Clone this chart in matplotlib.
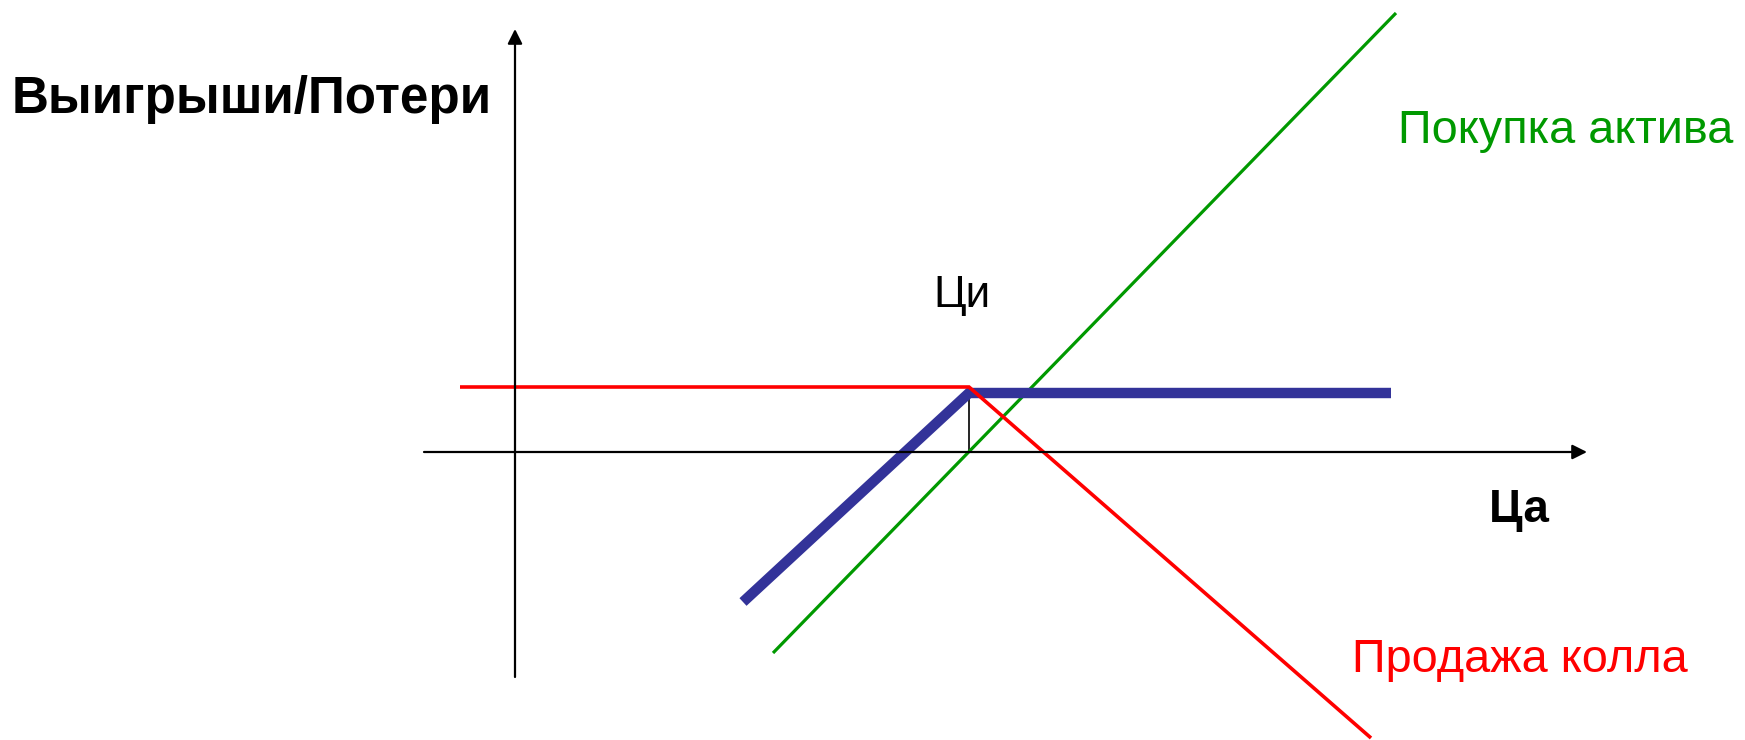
import matplotlib
matplotlib.use("Agg")
import matplotlib.pyplot as plt

# Chart coordinates: origin at the axes crossing, 1 unit ~ 1 px
red_x = [-55, 454, 856]
red_y = [65, 65, -286]
blue_x = [228, 454, 876]
blue_y = [-150, 59, 59]
green_x = [258, 881]
green_y = [-201, 439]
strike_x = 454
premium_y = 65

x_axis = [-91, 1072]
y_axis = [-225, 423]

title_y = "Выигрыши/Потери"
label_x = "Ца"
label_strike = "Ци"
label_green = "Покупка актива"
label_red = "Продажа колла"

fig = plt.figure(figsize=(17.45, 7.40), dpi=100)
ax = fig.add_axes([0, 0, 1, 1])
ax.set_xlim(-515, 1230)
ax.set_ylim(-288, 452)
ax.axis("off")

# axes with arrows
ax.annotate("", xy=(x_axis[1], 0), xytext=(x_axis[0], 0),
            arrowprops=dict(arrowstyle="-|>", color="black", lw=1.6,
                            mutation_scale=22, shrinkA=0, shrinkB=0))
ax.annotate("", xy=(0, y_axis[1]), xytext=(0, y_axis[0]),
            arrowprops=dict(arrowstyle="-|>", color="black", lw=1.6,
                            mutation_scale=22, shrinkA=0, shrinkB=0))

# thin vertical at strike
ax.plot([strike_x, strike_x], [0, premium_y], color="black", lw=1.2)

ax.plot(green_x, green_y, color="#009900", lw=2.3, solid_capstyle="butt")
ax.plot(blue_x, blue_y, color="#333399", lw=7.5, solid_capstyle="butt",
        solid_joinstyle="miter")
ax.plot(red_x, red_y, color="#ff0000", lw=2.6, solid_capstyle="butt",
        solid_joinstyle="miter")

FONT = ["Liberation Sans", "DejaVu Sans"]
texts = []
texts.append((ax.text(-503, 339, title_y, fontsize=36, fontweight="bold", color="black",
                      ha="left", va="baseline", family=FONT), 481))
texts.append((ax.text(418, 145, label_strike, fontsize=33, color="black",
                      ha="left", va="baseline", family=FONT), 57))
texts.append((ax.text(883, 309, label_green, fontsize=34, color="#009900",
                      ha="left", va="baseline", family=FONT), 335))
texts.append((ax.text(837, -220, label_red, fontsize=33, color="#ff0000",
                      ha="left", va="baseline", family=FONT), 336))
ax.text(974, -70, label_x, fontsize=33, fontweight="bold", color="black",
        ha="left", va="baseline", family=FONT)

fig.canvas.draw()
r = fig.canvas.get_renderer()
for t, w in texts:
    bw = t.get_window_extent(r).width
    t.set_fontsize(t.get_fontsize() * w / bw)

fig.savefig("out.png", dpi=100, facecolor="white")
